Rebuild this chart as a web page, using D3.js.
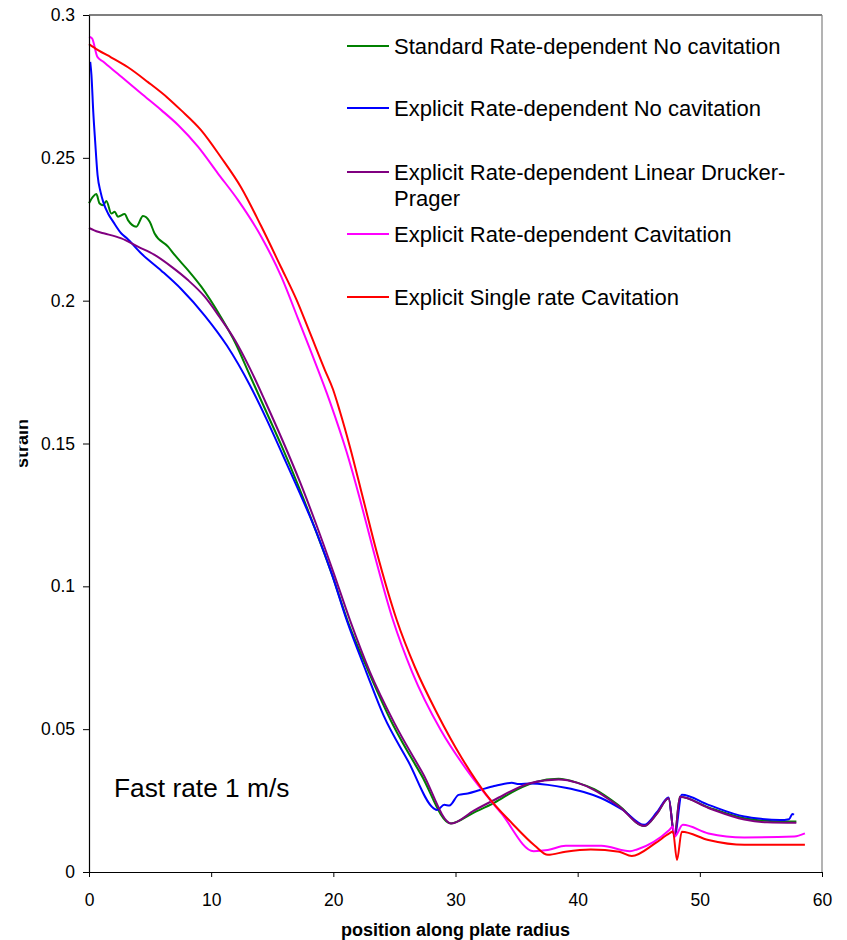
<!DOCTYPE html>
<html>
<head>
<meta charset="utf-8">
<script src="https://cdn.jsdelivr.net/npm/d3@7"></script>
<style>
  body { margin: 0; background: #fff; }
  svg { font-family: "Liberation Sans", Arial, sans-serif; }
</style>
</head>
<body>
<div id="chart"></div>
<script>
// series: [position, strain]
var standardNoCav = [
  [0, 0.2341], [0.33, 0.2364], [0.6, 0.2373], [0.87, 0.234], [1.15, 0.2334], [1.42, 0.2349],
  [1.83, 0.2305], [2.1, 0.2311], [2.37, 0.2294], [2.92, 0.2303], [3.19, 0.2282], [3.87, 0.2259],
  [4.42, 0.2296], [4.97, 0.2276], [5.37, 0.2235], [6.47, 0.2189], [7.01, 0.216], [8.1, 0.2107],
  [9.19, 0.2049], [10.83, 0.1940], [12.0, 0.1850], [13.1, 0.1745], [14.5, 0.1612], [15.8, 0.1488],
  [17.2, 0.1345], [18.5, 0.1202], [19.9, 0.1040], [21.2, 0.0875], [22.9, 0.0700], [24.85, 0.0518],
  [27.2, 0.034], [29.6, 0.017], [31.5, 0.0208], [33.2, 0.0243], [35.0, 0.0288], [36.5, 0.0314],
  [38.44, 0.0326], [40.0, 0.0312], [41.36, 0.029], [43.4, 0.0232], [45.45, 0.0161], [46.5, 0.0205],
  [47.44, 0.0258], [47.93, 0.0124], [48.37, 0.0263], [50.71, 0.0226], [53.64, 0.0188], [56.0, 0.0178],
  [57.9, 0.0177]
];
var explicitNoCav = [
  [0.1, 0.2836], [0.2, 0.279], [0.35, 0.266], [0.5, 0.256], [0.7, 0.244], [0.95, 0.238],
  [1.17, 0.2345], [1.56, 0.2305], [2.0, 0.2275], [2.65, 0.2235], [3.08, 0.2219], [4.28, 0.2165],
  [5.92, 0.2105], [7.56, 0.2040], [9.47, 0.1948], [11.3, 0.1842], [13.18, 0.1703], [14.5, 0.1588],
  [15.88, 0.1458], [17.3, 0.1322], [18.64, 0.1187], [19.9, 0.1040], [21.09, 0.0882], [22.7, 0.0700],
  [24.11, 0.0548], [26.16, 0.0385], [28.21, 0.0223], [28.5, 0.0217], [29.08, 0.0235], [29.5, 0.0233],
  [30.25, 0.027], [31.0, 0.0275], [32.0, 0.0287], [33.17, 0.0301], [34.6, 0.0312], [35.2, 0.0308],
  [36.1, 0.031], [37.56, 0.0305], [39.0, 0.0295], [40.5, 0.028], [41.9, 0.0259], [43.7, 0.0217],
  [45.45, 0.0165], [46.5, 0.021], [47.44, 0.0261], [47.93, 0.0124], [48.52, 0.027], [50.71, 0.0235],
  [53.64, 0.0194], [55.0, 0.0186], [56.56, 0.0182], [57.3, 0.0185], [57.58, 0.0203], [57.7, 0.02]
];
var explicitDP = [
  [0, 0.2255], [0.74, 0.2241], [1.28, 0.2235], [2.65, 0.2218], [4.0, 0.2189], [5.37, 0.216],
  [6.74, 0.2119], [8.1, 0.2072], [9.47, 0.2014], [10.7, 0.1942], [12.0, 0.1858], [13.18, 0.1762],
  [14.5, 0.1640], [15.88, 0.1507], [17.3, 0.1362], [18.64, 0.1212], [20.0, 0.1050], [21.36, 0.0882],
  [23.0, 0.0700], [24.99, 0.0522], [27.33, 0.0345], [29.67, 0.017], [31.5, 0.0215], [33.17, 0.0252],
  [36.1, 0.0311], [38.44, 0.0324], [40.0, 0.0312], [41.36, 0.0287], [43.4, 0.0229], [45.45, 0.0161],
  [46.5, 0.0205], [47.44, 0.0258], [47.93, 0.0124], [48.37, 0.0263], [50.71, 0.0224], [53.64, 0.0184],
  [55.5, 0.0174], [57.9, 0.0172]
];
var explicitCav = [
  [0, 0.2924], [0.25, 0.2918], [0.68, 0.2854], [1.15, 0.2837], [2.65, 0.2784], [4.28, 0.2725],
  [5.92, 0.2667], [7.29, 0.2615], [8.92, 0.2539], [10.56, 0.2445], [12.2, 0.2352], [14.1, 0.2224],
  [15.74, 0.2084], [17.1, 0.1938], [18.09, 0.1830], [19.73, 0.1645], [21.09, 0.1470], [22.18, 0.1305],
  [23.25, 0.1130], [24.88, 0.0882], [26.45, 0.0700], [28.79, 0.0497], [31.13, 0.0345], [33.76, 0.0205],
  [36.39, 0.0073], [37.56, 0.0077], [39.02, 0.0092], [41.94, 0.0092], [44.28, 0.0073], [44.86, 0.0079],
  [47.5, 0.0147], [47.79, 0.0159], [47.93, 0.0124], [48.61, 0.0165], [50.71, 0.0135], [53.64, 0.0121],
  [57.73, 0.0124], [58.6, 0.0135]
];
var singleRateCav = [
  [0, 0.2898], [0.74, 0.2877], [1.8, 0.2852], [3.19, 0.2817], [4.83, 0.2765], [6.47, 0.2709],
  [7.53, 0.2667], [9.17, 0.2597], [10.8, 0.2502], [12.44, 0.2397], [14.08, 0.2262], [15.72, 0.2117],
  [17.0, 0.2002], [18.09, 0.1887], [19.3, 0.1758], [19.97, 0.1690], [20.54, 0.1612], [21.36, 0.1488],
  [22.42, 0.1310], [23.55, 0.1120], [25.19, 0.0882], [26.7, 0.0715], [28.5, 0.0555], [30.5, 0.0400],
  [32.5, 0.0272], [34.64, 0.0170], [36.5, 0.0092], [37.56, 0.006], [39.0, 0.0071], [41.07, 0.0079],
  [43.4, 0.0071], [44.43, 0.0056], [46.33, 0.01], [47.5, 0.0135], [47.8, 0.0142], [48.13, 0.0042],
  [48.52, 0.0141], [50.7, 0.0112], [53.64, 0.0095], [58.6, 0.0095]
];

var seriesNames = [
  "Standard Rate-dependent No cavitation",
  "Explicit Rate-dependent No cavitation",
  "Explicit Rate-dependent Linear Drucker-Prager",
  "Explicit Rate-dependent Cavitation",
  "Explicit Single rate Cavitation"
];
var seriesData = [standardNoCav, explicitNoCav, explicitDP, explicitCav, singleRateCav];
var seriesColors = ["#008000", "#0000ff", "#800080", "#ff00ff", "#ff0000"];
var xTicks = [0, 10, 20, 30, 40, 50, 60];
var yTicks = [0, 0.05, 0.1, 0.15, 0.2, 0.25, 0.3];

var width = 847, height = 940;
var margin = {top: 15, right: 25, bottom: 68, left: 89};

var svg = d3.select("#chart").append("svg")
    .attr("width", width).attr("height", height);

var x = d3.scaleLinear().domain([0, 60]).range([margin.left, width - margin.right]);
var y = d3.scaleLinear().domain([0, 0.3]).range([height - margin.bottom, margin.top]);

// plot area frame (top and right)
svg.append("line").attr("x1", x(0)).attr("x2", x(60)).attr("y1", y(0.3)).attr("y2", y(0.3))
    .attr("stroke", "#000").attr("stroke-width", 1.2);
svg.append("line").attr("x1", x(60)).attr("x2", x(60)).attr("y1", y(0.3)).attr("y2", y(0))
    .attr("stroke", "#808080").attr("stroke-width", 1.2);

var line = d3.line()
    .x(function(d) { return x(d[0]); })
    .y(function(d) { return y(d[1]); })
    .curve(d3.curveMonotoneX);

seriesData.forEach(function(s, i) {
  svg.append("path").datum(s)
      .attr("d", line)
      .attr("fill", "none")
      .attr("stroke", seriesColors[i])
      .attr("stroke-width", 2)
      .attr("stroke-linejoin", "round");
});

var xAxis = svg.append("g").attr("transform", "translate(0," + y(0) + ")")
    .call(d3.axisBottom(x).tickValues(xTicks).tickSize(5).tickSizeOuter(0).tickPadding(17));
var yAxis = svg.append("g").attr("transform", "translate(" + x(0) + ",0)")
    .call(d3.axisLeft(y).tickValues(yTicks).tickSize(6).tickSizeOuter(0).tickPadding(8)
      .tickFormat(function(d) { return d === 0 ? "0" : String(d); }));

[xAxis, yAxis].forEach(function(g) {
  g.select(".domain").attr("stroke", "#000").attr("stroke-width", 1.2);
  g.selectAll(".tick line").attr("stroke", "#000");
  g.selectAll(".tick text").attr("fill", "#000")
      .style("font-family", "'Liberation Sans', Arial, sans-serif").style("font-size", "17.5px");
});

svg.append("text")
    .attr("x", (x(0) + x(60)) / 2).attr("y", 936)
    .attr("text-anchor", "middle")
    .style("font-weight", "bold").style("font-size", "18px")
    .text("position along plate radius");

// y title, cut on its left edge like the original
svg.append("clipPath").attr("id", "ytclip")
  .append("rect").attr("x", 19.5).attr("y", 0).attr("width", 60).attr("height", height);
svg.append("g").attr("clip-path", "url(#ytclip)")
  .append("text")
    .attr("transform", "translate(28," + ((y(0) + y(0.3)) / 2) + ") rotate(-90)")
    .attr("text-anchor", "middle")
    .style("font-weight", "bold").style("font-size", "18px")
    .text("strain");

svg.append("text")
    .attr("x", 114).attr("y", 797)
    .style("font-size", "26.3px")
    .text("Fast rate 1 m/s");

// legend
var legendY = [46, 108, 172, 234, 297];
var legend = svg.append("g");
seriesNames.forEach(function(name, i) {
  var ly = legendY[i];
  legend.append("line").attr("x1", 347).attr("x2", 389).attr("y1", ly).attr("y2", ly)
      .attr("stroke", seriesColors[i]).attr("stroke-width", 2);
  var t = legend.append("text").attr("x", 394).attr("y", ly + 8).style("font-size", "22px");
  if (i === 2) {
    t.append("tspan").attr("x", 394).text("Explicit Rate-dependent Linear Drucker-");
    t.append("tspan").attr("x", 394).attr("dy", 25.5).text("Prager");
  } else {
    t.text(name);
  }
});
</script>
</body>
</html>
